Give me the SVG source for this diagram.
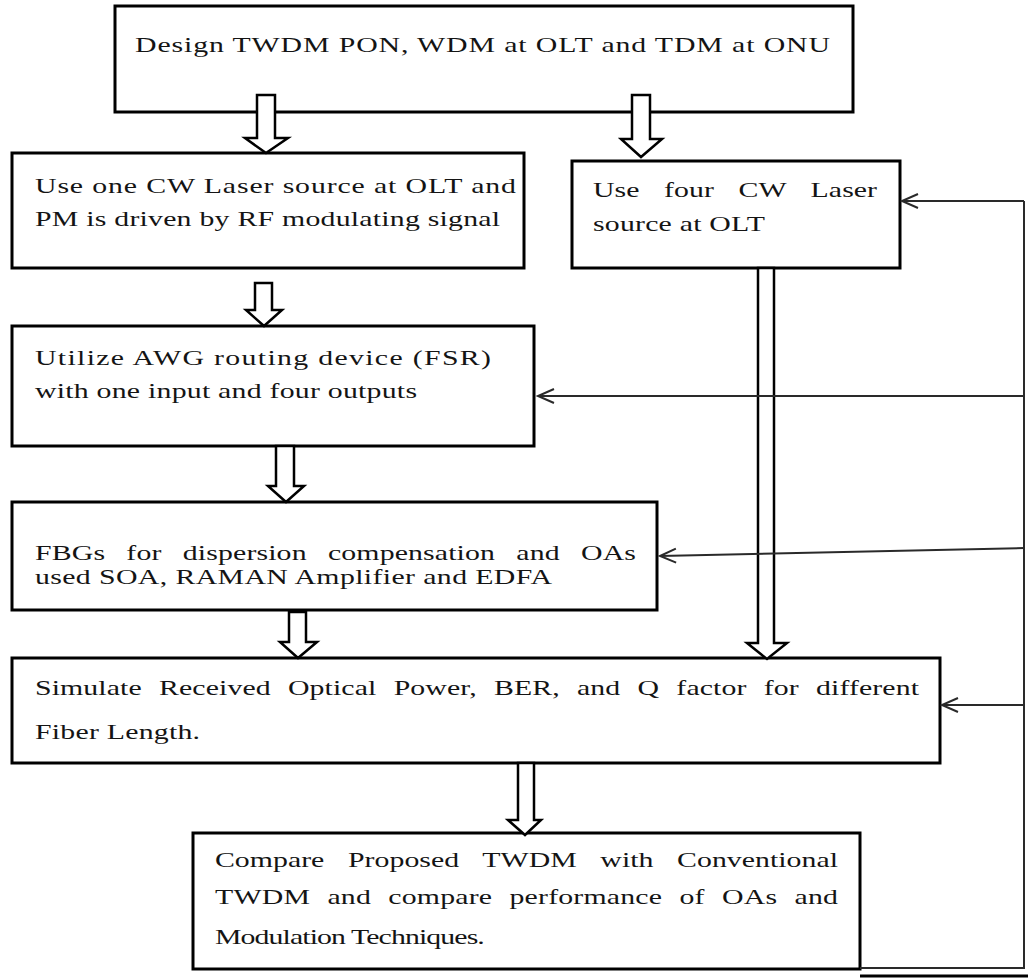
<svg xmlns="http://www.w3.org/2000/svg" width="1028" height="978" viewBox="0 0 1028 978">
  <defs>
    <style>
      .box { fill: #ffffff; stroke: #000000; stroke-width: 3; }
      .txt { font-family: "Liberation Serif", "Times New Roman", serif; font-size: 21px; fill: #141414; }
      .hollow { fill: #ffffff; stroke: #000000; stroke-width: 2.5; stroke-linejoin: miter; }
      .fb { fill: none; stroke: #2a2a2a; stroke-width: 2; }
    </style>
    <!-- open V head; tip sits on the line end -->
    <marker id="open" markerWidth="20" markerHeight="20" refX="17" refY="8" orient="auto" markerUnits="userSpaceOnUse">
      <path d="M1,1 L17,8 L1,15" fill="none" stroke="#2a2a2a" stroke-width="2"/>
    </marker>
  </defs>

  <rect width="1028" height="978" fill="#ffffff"/>

  <!-- process steps (text is drawn wide: scaled 1.42 horizontally) -->
  <g id="design">
    <rect class="box" x="115" y="6" width="738" height="106"/>
    <text class="txt" transform="scale(1.42 1)" x="95.07" y="52" textLength="489.4" lengthAdjust="spacing">Design TWDM PON, WDM at OLT and TDM at ONU</text>
  </g>

  <g id="one-laser">
    <rect class="box" x="12" y="153" width="512" height="115"/>
    <text class="txt" transform="scale(1.42 1)" x="24.65" y="193" textLength="338.7" lengthAdjust="spacing">Use one CW Laser source at OLT and</text>
    <text class="txt" transform="scale(1.42 1)" x="24.65" y="226" textLength="327.5" lengthAdjust="spacing">PM is driven by RF modulating signal</text>
  </g>

  <g id="four-laser">
    <rect class="box" x="572" y="161" width="328" height="107"/>
    <text class="txt" transform="scale(1.42 1)" x="417.6" y="197" word-spacing="12" textLength="200" lengthAdjust="spacing">Use four CW Laser</text>
    <text class="txt" transform="scale(1.42 1)" x="417.6" y="231" textLength="121.1" lengthAdjust="spacing">source at OLT</text>
  </g>

  <g id="awg">
    <rect class="box" x="12" y="326" width="522" height="120"/>
    <text class="txt" transform="scale(1.42 1)" x="24.65" y="365" textLength="321.1" lengthAdjust="spacing">Utilize AWG routing device (FSR)</text>
    <text class="txt" transform="scale(1.42 1)" x="24.65" y="398" textLength="269" lengthAdjust="spacing">with one input and four outputs</text>
  </g>

  <g id="fbg">
    <rect class="box" x="12" y="502" width="645" height="108"/>
    <text class="txt" transform="scale(1.42 1)" x="24.65" y="560" word-spacing="9.6" textLength="423.2" lengthAdjust="spacing">FBGs for dispersion compensation and OAs</text>
    <text class="txt" transform="scale(1.42 1)" x="24.65" y="584" textLength="364.1" lengthAdjust="spacing">used SOA, RAMAN Amplifier and EDFA</text>
  </g>

  <g id="simulate">
    <rect class="box" x="12" y="658" width="928" height="105"/>
    <text class="txt" transform="scale(1.42 1)" x="24.65" y="695" word-spacing="6.8" textLength="622.5" lengthAdjust="spacing">Simulate Received Optical Power, BER, and Q factor for different</text>
    <text class="txt" transform="scale(1.42 1)" x="24.65" y="739" textLength="116.2" lengthAdjust="spacing">Fiber Length.</text>
  </g>

  <g id="compare">
    <rect class="box" x="193" y="833" width="667" height="136" stroke-width="4"/>
    <text class="txt" transform="scale(1.42 1)" x="151.4" y="867" word-spacing="11.4" textLength="438.7" lengthAdjust="spacing">Compare Proposed TWDM with Conventional</text>
    <text class="txt" transform="scale(1.42 1)" x="151.4" y="904" word-spacing="6.8" textLength="438.7" lengthAdjust="spacing">TWDM and compare performance of OAs and</text>
    <text class="txt" transform="scale(1.42 1)" x="151.4" y="944" textLength="190" lengthAdjust="spacing">Modulation Techniques.</text>
  </g>

  <!-- connectors -->
  <g id="connectors">
    <!-- hollow block arrows between steps -->
    <polygon class="hollow" points="257,95 275,95 275,138 288,138 266,153 245,138 257,138"/>
    <polygon class="hollow" points="632,95 650,95 650,139 662,139 641,157 621,139 632,139"/>
    <polygon class="hollow" points="255,283 272,283 272,310 282,310 264,326 246,310 255,310"/>
    <polygon class="hollow" points="276,446 294,446 294,486 304,486 286,502 268,486 276,486"/>
    <polygon class="hollow" points="289,612 306,612 306,642 317,642 298,658 280,642 289,642"/>
    <polygon class="hollow" points="758,268 774,268 774,643 787,643 767,659 747,643 758,643"/>
    <polygon class="hollow" points="518,763 534,763 534,820 541,820 525,835 508,820 518,820"/>

    <!-- feedback loop along the right edge -->
    <polyline class="fb" points="860,968 1024,968 1024,201"/>
    <line class="fb" x1="1024" y1="201" x2="902" y2="201" marker-end="url(#open)"/>
    <line class="fb" x1="1024" y1="396" x2="538" y2="396" marker-end="url(#open)"/>
    <line class="fb" x1="1024" y1="548" x2="660" y2="556" marker-end="url(#open)"/>
    <line class="fb" x1="1024" y1="705" x2="942" y2="705" marker-end="url(#open)"/>

    <!-- shadow under the last step -->
    <line x1="860" y1="976" x2="1028" y2="976" stroke="#000000" stroke-width="3"/>
  </g>
</svg>
